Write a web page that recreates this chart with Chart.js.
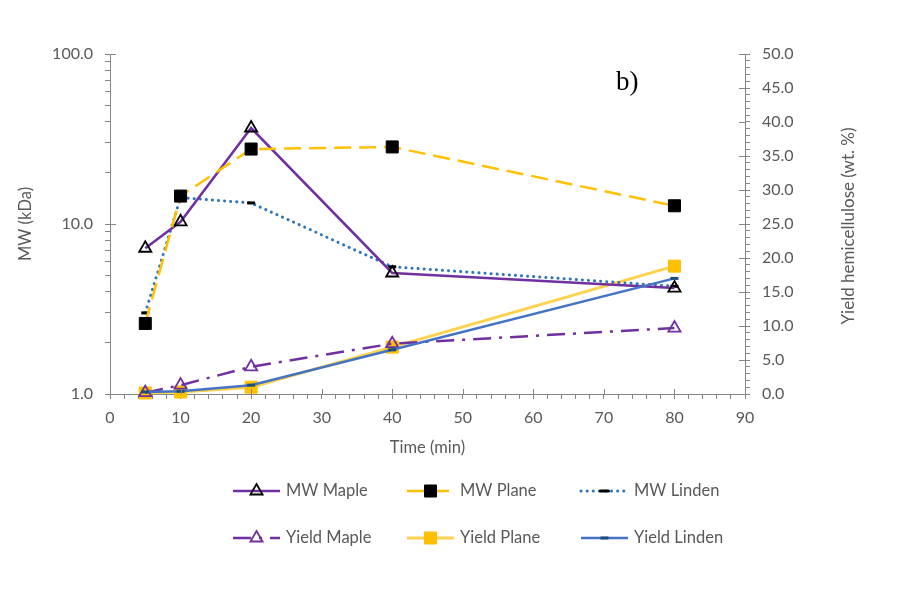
<!DOCTYPE html>
<html>
<head>
<meta charset="utf-8">
<script src="https://cdn.jsdelivr.net/npm/chart.js@4"></script>
<style>
  html, body { margin: 0; padding: 0; background: #fff; }
  canvas { display: block; }
</style>
</head>
<body>
<canvas id="myChart" width="913" height="611"></canvas>
<script>
// sampling times (min)
const times = [5, 10, 20, 40, 80];

// molecular weight, kDa (left, log axis)
const mwMaple = [7.2, 10.3, 36.7, 5.15, 4.2];
const mwPlane = [2.6, 14.6, 27.6, 28.4, 12.8];
const mwLinden = [3.0, 14.3, 13.3, 5.6, 4.3];

// hemicellulose yield, wt. % (right axis)
const yieldMaple = [0.2, 1.3, 4.0, 7.4, 9.7];
const yieldPlane = [0.15, 0.3, 1.0, 6.9, 18.8];
const yieldLinden = [0.3, 0.4, 1.3, 6.5, 17.0];

// tick labels
const xTicks = [0, 10, 20, 30, 40, 50, 60, 70, 80, 90];
const mwTicks = [1, 10, 100];
const yieldTicks = [0, 5, 10, 15, 20, 25, 30, 35, 40, 45, 50];

const FONT = "Lato, 'Open Sans', sans-serif";
const GREY = "#595959";
const AXIS = "#868686";

function pts(values) {
  return times.map((t, i) => ({ x: t, y: values[i] }));
}

function range(a, b, step) {
  var out = [];
  for (var v = a; v <= b + 1e-9; v += step) out.push(+v.toFixed(4));
  return out;
}

var logTickVals = [];
[1, 10].forEach(d => { for (var k = 1; k < 10; k++) logTickVals.push(k * d); });
logTickVals.push(100);

// inner half of major ticks, right axis title, "b)" tag and legend
const extras = {
  id: "extras",
  afterDraw(chart) {
    const ctx = chart.ctx;
    const { x, y, y2 } = chart.scales;
    const area = chart.chartArea;
    ctx.save();
    ctx.strokeStyle = AXIS;
    ctx.lineWidth = 1;
    ctx.beginPath();
    xTicks.forEach(v => {
      const px = Math.round(x.getPixelForValue(v)) + 0.5;
      ctx.moveTo(px, area.bottom - 5);
      ctx.lineTo(px, area.bottom);
    });
    mwTicks.forEach(v => {
      const py = Math.round(y.getPixelForValue(v)) + 0.5;
      ctx.moveTo(area.left, py);
      ctx.lineTo(area.left + 6, py);
    });
    yieldTicks.forEach(v => {
      const py = Math.round(y2.getPixelForValue(v)) + 0.5;
      ctx.moveTo(area.right - 6, py);
      ctx.lineTo(area.right, py);
    });
    ctx.stroke();

    // right axis title, reading bottom to top
    ctx.fillStyle = GREY;
    ctx.font = "17px " + FONT;
    ctx.textAlign = "center";
    ctx.textBaseline = "middle";
    ctx.save();
    ctx.translate(849, 226);
    ctx.rotate(-Math.PI / 2);
    ctx.fillText("Yield hemicellulose (wt. %)", 0, 0);
    ctx.restore();

    // panel tag
    ctx.fillStyle = "#000";
    ctx.font = "27px 'Liberation Serif', 'DejaVu Serif', serif";
    ctx.textAlign = "left";
    ctx.fillText("b)", 616, 83);

    // legend
    const lineX = [233, 407, 581];
    const rowY = [491, 538];
    chart.data.datasets.forEach((ds, i) => {
      const col = i % 3, row = Math.floor(i / 3);
      const x0 = lineX[col], x1 = x0 + 47, yy = rowY[row];
      ctx.save();
      ctx.strokeStyle = ds.borderColor;
      ctx.lineWidth = ds.borderWidth;
      ctx.lineCap = ds.borderCapStyle || "butt";
      ctx.setLineDash(ds.borderDash || []);
      ctx.beginPath();
      ctx.moveTo(x0, yy);
      ctx.lineTo(x1, yy);
      ctx.stroke();
      ctx.setLineDash([]);
      ctx.fillStyle = ds.pointBackgroundColor;
      ctx.strokeStyle = ds.pointBorderColor;
      ctx.lineWidth = ds.pointBorderWidth;
      Chart.helpers.drawPoint(ctx, {
        pointStyle: ds.pointStyle,
        radius: ds.pointRadius,
        borderWidth: ds.pointBorderWidth,
        rotation: 0
      }, (x0 + x1) / 2, yy);
      ctx.restore();
      ctx.fillStyle = GREY;
      ctx.font = "16.5px " + FONT;
      ctx.textAlign = "left";
      ctx.textBaseline = "middle";
      ctx.fillText(ds.label, x1 + 6, yy);
    });
    ctx.restore();
  }
};

const ctx = document.getElementById("myChart").getContext("2d");
new Chart(ctx, {
  type: "line",
  data: {
    datasets: [
      {
        label: "MW Maple",
        data: pts(mwMaple),
        yAxisID: "y",
        borderColor: "#7030A0",
        borderWidth: 2.5,
        pointStyle: "triangle",
        pointRadius: 7,
        pointBackgroundColor: "rgba(255,255,255,0)",
        pointBorderColor: "#000",
        pointBorderWidth: 1.8,
        order: 3
      },
      {
        label: "MW Plane",
        data: pts(mwPlane),
        yAxisID: "y",
        borderColor: "#FFC000",
        borderWidth: 2.5,
        borderDash: [17, 8],
        pointStyle: "rect",
        pointRadius: 8.5,
        pointBackgroundColor: "#000",
        pointBorderColor: "#000",
        pointBorderWidth: 1,
        order: 2
      },
      {
        label: "MW Linden",
        data: pts(mwLinden),
        yAxisID: "y",
        borderColor: "#2E75B6",
        borderWidth: 3,
        borderDash: [0.1, 6],
        borderCapStyle: "round",
        pointStyle: "line",
        pointRadius: 4,
        pointBackgroundColor: "#000",
        pointBorderColor: "#000",
        pointBorderWidth: 3,
        order: 4
      },
      {
        label: "Yield Maple",
        data: pts(yieldMaple),
        yAxisID: "y2",
        borderColor: "#7030A0",
        borderWidth: 2.5,
        borderDash: [18, 8, 3, 8],
        pointStyle: "triangle",
        pointRadius: 7,
        pointBackgroundColor: "rgba(255,255,255,0)",
        pointBorderColor: "#7030A0",
        pointBorderWidth: 1.8,
        order: 5
      },
      {
        label: "Yield Plane",
        data: pts(yieldPlane),
        yAxisID: "y2",
        borderColor: "#FFD24D",
        borderWidth: 3,
        pointStyle: "rect",
        pointRadius: 8.5,
        pointBackgroundColor: "#FFC000",
        pointBorderColor: "#FFC000",
        pointBorderWidth: 1,
        order: 6
      },
      {
        label: "Yield Linden",
        data: pts(yieldLinden),
        yAxisID: "y2",
        borderColor: "#4472C4",
        borderWidth: 2.5,
        pointStyle: "line",
        pointRadius: 4,
        pointBackgroundColor: "#1F4E79",
        pointBorderColor: "#1F4E79",
        pointBorderWidth: 3,
        order: 1
      }
    ]
  },
  options: {
    responsive: false,
    animation: false,
    clip: false,
    tension: 0,
    layout: { padding: { top: 54, right: 0, bottom: 153, left: 0 } },
    plugins: {
      legend: { display: false },
      tooltip: { enabled: false }
    },
    scales: {
      x: {
        type: "linear",
        min: 0,
        max: 90,
        afterBuildTicks: s => { s.ticks = range(0, 90, 2).map(v => ({ value: v })); },
        afterFit: s => { s.height = 64; },
        ticks: {
          autoSkip: false,
          maxRotation: 0,
          padding: 9,
          color: GREY,
          font: { family: FONT, size: 16 },
          callback: v => (v % 10 === 0 ? String(v) : "")
        },
        grid: { drawOnChartArea: false, tickLength: 5, color: AXIS },
        border: { color: AXIS },
        title: {
          display: true,
          text: "Time (min)",
          color: GREY,
          font: { family: FONT, size: 16.5 },
          padding: { top: 0, bottom: 0 }
        }
      },
      y: {
        type: "logarithmic",
        position: "left",
        min: 1,
        max: 100,
        afterBuildTicks: s => { s.ticks = logTickVals.map(v => ({ value: v })); },
        afterFit: s => { s.width = 110; },
        ticks: {
          autoSkip: false,
          padding: 12,
          color: GREY,
          font: { family: FONT, size: 16 },
          callback: v => (mwTicks.includes(v) ? v.toFixed(1) : "")
        },
        grid: { drawOnChartArea: false, tickLength: 5, color: AXIS },
        border: { color: AXIS },
        title: {
          display: true,
          text: "MW (kDa)",
          color: GREY,
          font: { family: FONT, size: 16.5 },
          padding: { top: 16, bottom: 0 }
        }
      },
      y2: {
        type: "linear",
        position: "right",
        min: 0,
        max: 50,
        afterBuildTicks: s => { s.ticks = range(0, 50, 1).map(v => ({ value: v })); },
        afterFit: s => { s.width = 168; },
        ticks: {
          autoSkip: false,
          padding: 12,
          color: GREY,
          font: { family: FONT, size: 16 },
          callback: v => (v % 5 === 0 ? v.toFixed(1) : "")
        },
        grid: { drawOnChartArea: false, tickLength: 5, color: AXIS },
        border: { color: AXIS }
      }
    }
  },
  plugins: [extras]
});
</script>
</body>
</html>
